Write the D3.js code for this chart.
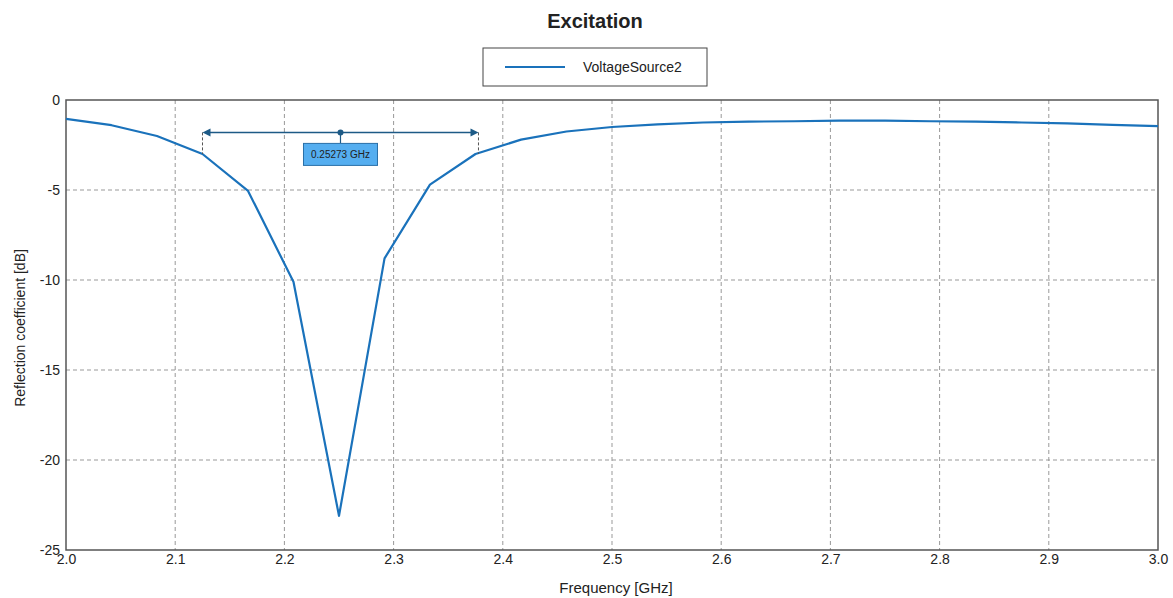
<!DOCTYPE html>
<html>
<head>
<meta charset="utf-8">
<script src="https://cdn.jsdelivr.net/npm/d3@7"></script>
<style>
  body { margin: 0; background: #fff; }
  text { font-family: "Liberation Sans", Arial, sans-serif; fill: #222; }
</style>
</head>
<body>
<svg width="1173" height="598"></svg>
<script>
// frequency samples (GHz), step 1/24
var freqs = [2.0, 2.0417, 2.0833, 2.125, 2.1667, 2.2083, 2.25, 2.2917, 2.3333, 2.375,
             2.4167, 2.4583, 2.5, 2.5417, 2.5833, 2.625, 2.6667, 2.7083, 2.75, 2.7917,
             2.8333, 2.875, 2.9167, 2.9583, 3.0];
// reflection coefficient (dB)
var s11 = [-1.05, -1.4, -2.0, -3.0, -5.05, -10.1, -23.1, -8.8, -4.7, -3.0,
           -2.2, -1.75, -1.5, -1.35, -1.25, -1.2, -1.18, -1.15, -1.15, -1.18,
           -1.2, -1.25, -1.3, -1.38, -1.45];
var xTicks = [2.0, 2.1, 2.2, 2.3, 2.4, 2.5, 2.6, 2.7, 2.8, 2.9, 3.0];
var yTicks = [0, -5, -10, -15, -20, -25];
var seriesName = 'VoltageSource2';
// -3 dB bandwidth markers
var bwLow = 2.125, bwHigh = 2.37773, bwLevel = -1.8;

var svg = d3.select('svg');
var padding = {t: 100, r: 15, b: 48, l: 66};
var chartWidth = 1173 - padding.l - padding.r;
var chartHeight = 598 - padding.t - padding.b;
var lineColor = '#1a72bb';

var chartG = svg.append('g')
    .attr('transform', 'translate(' + [padding.l, padding.t] + ')');

var x = d3.scaleLinear().domain([2, 3]).range([0, chartWidth]);
var y = d3.scaleLinear().domain([-25, 0]).range([chartHeight, 0]);

// grid lines
chartG.selectAll('.vgrid')
    .data(xTicks.slice(1, -1))
    .enter().append('line')
    .attr('x1', function(d) { return x(d); })
    .attr('x2', function(d) { return x(d); })
    .attr('y1', 0).attr('y2', chartHeight)
    .attr('stroke', '#999').attr('stroke-dasharray', '4,3');

chartG.selectAll('.hgrid')
    .data(yTicks.slice(1, -1))
    .enter().append('line')
    .attr('y1', function(d) { return y(d); })
    .attr('y2', function(d) { return y(d); })
    .attr('x1', 0).attr('x2', chartWidth)
    .attr('stroke', '#999').attr('stroke-dasharray', '4,3');

// axes
var xAxis = chartG.append('g')
    .attr('transform', 'translate(0,' + chartHeight + ')')
    .call(d3.axisBottom(x).tickValues(xTicks).tickSize(0).tickPadding(4)
        .tickFormat(d3.format('.1f')));
xAxis.select('.domain').remove();
xAxis.selectAll('text').style('font-size', '14px').attr('fill', '#222');

var yAxis = chartG.append('g')
    .call(d3.axisLeft(y).tickValues(yTicks).tickSize(0).tickPadding(6)
        .tickFormat(function(d) { return String(d); }));
yAxis.select('.domain').remove();
yAxis.selectAll('text').style('font-size', '14px').attr('fill', '#222');

// frame
chartG.append('rect')
    .attr('width', chartWidth).attr('height', chartHeight)
    .attr('fill', 'none').attr('stroke', '#555').attr('stroke-width', 1.5);

// curve
var line = d3.line()
    .x(function(d, i) { return x(freqs[i]); })
    .y(function(d) { return y(d); });

chartG.append('path')
    .datum(s11)
    .attr('d', line)
    .attr('fill', 'none')
    .attr('stroke', lineColor)
    .attr('stroke-width', 2.2)
    .attr('stroke-linejoin', 'round');

// bandwidth annotation
var markColor = '#1d5a86';
var ay = y(bwLevel);
[bwLow, bwHigh].forEach(function(f) {
    chartG.append('line')
        .attr('x1', x(f)).attr('x2', x(f))
        .attr('y1', ay).attr('y2', y(-3))
        .attr('stroke', '#555').attr('stroke-dasharray', '3,2');
});
chartG.append('line')
    .attr('x1', x(bwLow) + 6).attr('x2', x(bwHigh) - 6)
    .attr('y1', ay).attr('y2', ay)
    .attr('stroke', markColor).attr('stroke-width', 1.5);
chartG.append('path')
    .attr('d', 'M' + x(bwLow) + ',' + ay + 'l8,-4l0,8z')
    .attr('fill', markColor);
chartG.append('path')
    .attr('d', 'M' + x(bwHigh) + ',' + ay + 'l-8,-4l0,8z')
    .attr('fill', markColor);
var mid = (bwLow + bwHigh) / 2;
chartG.append('circle')
    .attr('cx', x(mid)).attr('cy', ay).attr('r', 3)
    .attr('fill', markColor);
chartG.append('line')
    .attr('x1', x(mid)).attr('x2', x(mid))
    .attr('y1', ay).attr('y2', ay + 11)
    .attr('stroke', markColor).attr('stroke-width', 1.2);
chartG.append('rect')
    .attr('x', x(mid) - 37).attr('y', ay + 11)
    .attr('width', 74).attr('height', 22)
    .attr('fill', '#55aef0').attr('stroke', '#2a6fa8');
chartG.append('text')
    .attr('x', x(mid)).attr('y', ay + 26)
    .attr('text-anchor', 'middle')
    .style('font-size', '10px')
    .text(d3.format('.5f')(bwHigh - bwLow) + ' GHz');

// title
svg.append('text')
    .attr('x', 595).attr('y', 28)
    .attr('text-anchor', 'middle')
    .style('font-size', '20px')
    .style('font-weight', 'bold')
    .attr('fill', '#333')
    .text('Excitation');

// legend
var legendG = svg.append('g').attr('transform', 'translate(483,48)');
legendG.append('rect')
    .attr('width', 224).attr('height', 38)
    .attr('fill', '#fff').attr('stroke', '#444');
legendG.append('line')
    .attr('x1', 22).attr('x2', 82).attr('y1', 19).attr('y2', 19)
    .attr('stroke', lineColor).attr('stroke-width', 2);
legendG.append('text')
    .attr('x', 100).attr('y', 24)
    .style('font-size', '14px')
    .text(seriesName);

// axis titles
svg.append('text')
    .attr('x', 616).attr('y', 593)
    .attr('text-anchor', 'middle')
    .style('font-size', '15px')
    .text('Frequency [GHz]');

svg.append('text')
    .attr('transform', 'translate(25,328) rotate(-90)')
    .attr('text-anchor', 'middle')
    .style('font-size', '14px')
    .text('Reflection coefficient [dB]');
</script>
</body>
</html>
